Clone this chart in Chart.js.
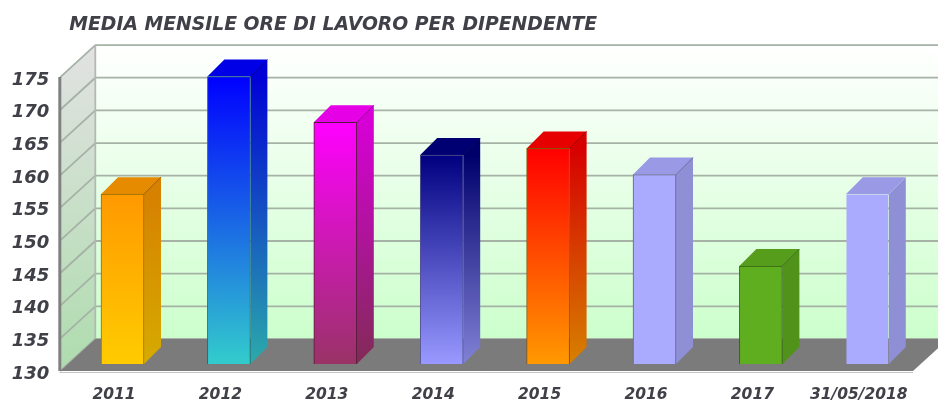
<!DOCTYPE html>
<html lang="it">

<head>
    <meta charset="UTF-8">
    <title>Media mensile ore di lavoro per dipendente</title>
    <style>
        html, body { margin: 0; padding: 0; background: #fff; }
        .containerCanva { position: relative; width: 938px; height: 401px; overflow: hidden; }
        canvas { display: block; filter: blur(0.35px); }
    </style>
</head>

<body>
    <div class="containerCanva">
        <canvas id="myChart"></canvas>
    </div>
    <script src="https://cdn.jsdelivr.net/npm/chart.js@4/dist/chart.umd.min.js"></script>
    <script>
        const categories = ['2011', '2012', '2013', '2014', '2015', '2016', '2017', '31/05/2018'];
        const ore = [156, 174, 167, 162, 163, 159, 145, 156];
        const coloriAlto = ['#ff9900', '#0000ff', '#ff00ff', '#000080', '#ff0000', '#aaaaff', '#5fae1f', '#aaaaff'];
        const coloriBasso = ['#ffcc00', '#33cccc', '#993366', '#9999ff', '#ff9900', '#aaaaff', '#5fae1f', '#aaaaff'];

        // 3d look: offsets between front plane, bar plane and back wall
        const wallDx = 35, wallDy = 32;
        const planeDx = 9, planeDy = 7;
        const barDx = 17, barDy = 17;
        const floorRight = 913;

        function scuro(hex, f) {
            const n = parseInt(hex.slice(1), 16);
            const r = Math.round((n >> 16) * f), g = Math.round(((n >> 8) & 255) * f), b = Math.round((n & 255) * f);
            return `rgb(${r},${g},${b})`;
        }

        function poly(ctx, pts, fill) {
            ctx.beginPath();
            pts.forEach((p, i) => i ? ctx.lineTo(p[0], p[1]) : ctx.moveTo(p[0], p[1]));
            ctx.closePath();
            ctx.fillStyle = fill;
            ctx.fill();
        }

        const pareti = {
            id: 'pareti',
            beforeDatasetsDraw(chart) {
                const ctx = chart.ctx, a = chart.chartArea, sy = chart.scales.y;
                const x0 = a.left - planeDx;
                const top = a.top + planeDy, bottom = a.bottom + planeDy;
                const bx = x0 + wallDx;
                const W = chart.width;

                ctx.save();
                // back wall
                let g = ctx.createLinearGradient(0, top - wallDy, 0, bottom - wallDy);
                g.addColorStop(0, '#ffffff');
                g.addColorStop(1, '#ccffcc');
                poly(ctx, [[bx, top - wallDy], [W, top - wallDy], [W, bottom - wallDy], [bx, bottom - wallDy]], g);

                // left wall
                g = ctx.createLinearGradient(0, top - wallDy, 0, bottom);
                g.addColorStop(0, '#e2e2e2');
                g.addColorStop(1, '#aedcae');
                poly(ctx, [[x0, top], [bx, top - wallDy], [bx, bottom - wallDy], [x0, bottom]], g);

                // grid lines
                ctx.strokeStyle = '#a6b2a6';
                ctx.lineWidth = 1.8;
                sy.ticks.forEach(t => {
                    const y = sy.getPixelForValue(t.value) + planeDy;
                    ctx.beginPath();
                    ctx.moveTo(x0, y);
                    ctx.lineTo(bx, y - wallDy);
                    ctx.lineTo(W, y - wallDy);
                    ctx.stroke();
                });
                ctx.strokeStyle = '#b4b8b4';
                ctx.beginPath();
                ctx.moveTo(bx, top - wallDy);
                ctx.lineTo(bx, bottom - wallDy);
                ctx.stroke();

                // floor
                poly(ctx, [[x0, bottom], [floorRight, bottom], [floorRight + wallDx, bottom - wallDy], [bx, bottom - wallDy]], '#7b7b7b');
                ctx.strokeStyle = '#c4c4c4';
                ctx.lineWidth = 1;
                ctx.beginPath();
                ctx.moveTo(x0 - 1, bottom + 1.5);
                ctx.lineTo(floorRight, bottom + 1.5);
                ctx.stroke();

                // front edge of the left wall
                ctx.strokeStyle = '#808080';
                ctx.lineWidth = 3;
                ctx.beginPath();
                ctx.moveTo(x0 - 0.5, top);
                ctx.lineTo(x0 - 0.5, bottom);
                ctx.stroke();

                // side and top faces of the bars
                const meta = chart.getDatasetMeta(0);
                meta.data.forEach((bar, i) => {
                    const p = bar.getProps(['x', 'y', 'base', 'width'], true);
                    const l = p.x - p.width / 2, r = p.x + p.width / 2;
                    const gs = ctx.createLinearGradient(0, p.y, 0, p.base);
                    gs.addColorStop(0, scuro(coloriAlto[i], 0.84));
                    gs.addColorStop(1, scuro(coloriBasso[i], 0.84));
                    const side = [[r, p.y], [r + barDx, p.y - barDy], [r + barDx, p.base - barDy], [r, p.base]];
                    const up = [[l, p.y], [l + barDx, p.y - barDy], [r + barDx, p.y - barDy], [r, p.y]];
                    poly(ctx, side, gs);
                    poly(ctx, up, scuro(coloriAlto[i], 0.9));
                    if (i !== 7) {
                        ctx.strokeStyle = scuro(coloriAlto[i], 0.6);
                        ctx.lineWidth = 1;
                        ctx.beginPath();
                        ctx.moveTo(r, p.y);
                        ctx.lineTo(r + barDx, p.y - barDy);
                        ctx.stroke();
                    }
                });
                ctx.restore();
            }
        };

        const ctx = document.getElementById('myChart').getContext('2d');
        const myChart = new Chart(ctx, {
            type: 'bar',
            data: {
                labels: categories,
                datasets: [{
                    data: ore,
                    base: 130,
                    barThickness: 43,
                    clip: false,
                    backgroundColor(c) {
                        const chart = c.chart, i = c.dataIndex;
                        if (!chart.chartArea || i === undefined) return '#aaaaff';
                        const g = chart.ctx.createLinearGradient(0, chart.scales.y.getPixelForValue(ore[i]), 0, chart.chartArea.bottom);
                        g.addColorStop(0, coloriAlto[i]);
                        g.addColorStop(1, coloriBasso[i]);
                        return g;
                    },
                    borderColor(c) {
                        const i = c.dataIndex;
                        if (i === undefined || i === 7) return 'rgba(0,0,0,0)';
                        return scuro(coloriBasso[i], 0.55);
                    },
                    borderWidth: 1
                }]
            },
            options: {
                responsive: true,
                maintainAspectRatio: false,
                animation: false,
                layout: { padding: { right: 17.5 } },
                plugins: {
                    legend: { display: false },
                    tooltip: { enabled: false },
                    title: {
                        display: true,
                        fullSize: false,
                        align: 'start',
                        text: 'MEDIA MENSILE ORE DI LAVORO PER DIPENDENTE',
                        color: '#404048',
                        font: { family: 'DejaVu Sans', size: 18.8, weight: 'bold', style: 'italic' },
                        padding: { top: 14, bottom: 33.5 }
                    }
                },
                scales: {
                    x: {
                        grid: { display: false },
                        border: { display: false },
                        afterFit(s) { s.height = 37; },
                        ticks: {
                            color: '#404048',
                            font: { family: 'DejaVu Sans', size: 15.5, weight: 'bold', style: 'italic' },
                            labelOffset: -8.5,
                            padding: 14,
                            maxRotation: 0,
                            autoSkip: false
                        }
                    },
                    y: {
                        min: 130,
                        max: 175,
                        grid: { display: false },
                        border: { display: false },
                        afterFit(s) { s.width = 69.3; },
                        ticks: {
                            stepSize: 5,
                            color: '#404048',
                            font: { family: 'DejaVu Sans', size: 18, weight: 'bold', style: 'italic' },
                            labelOffset: 10,
                            padding: 12
                        }
                    }
                }
            },
            plugins: [pareti]
        });
    </script>
</body>

</html>
